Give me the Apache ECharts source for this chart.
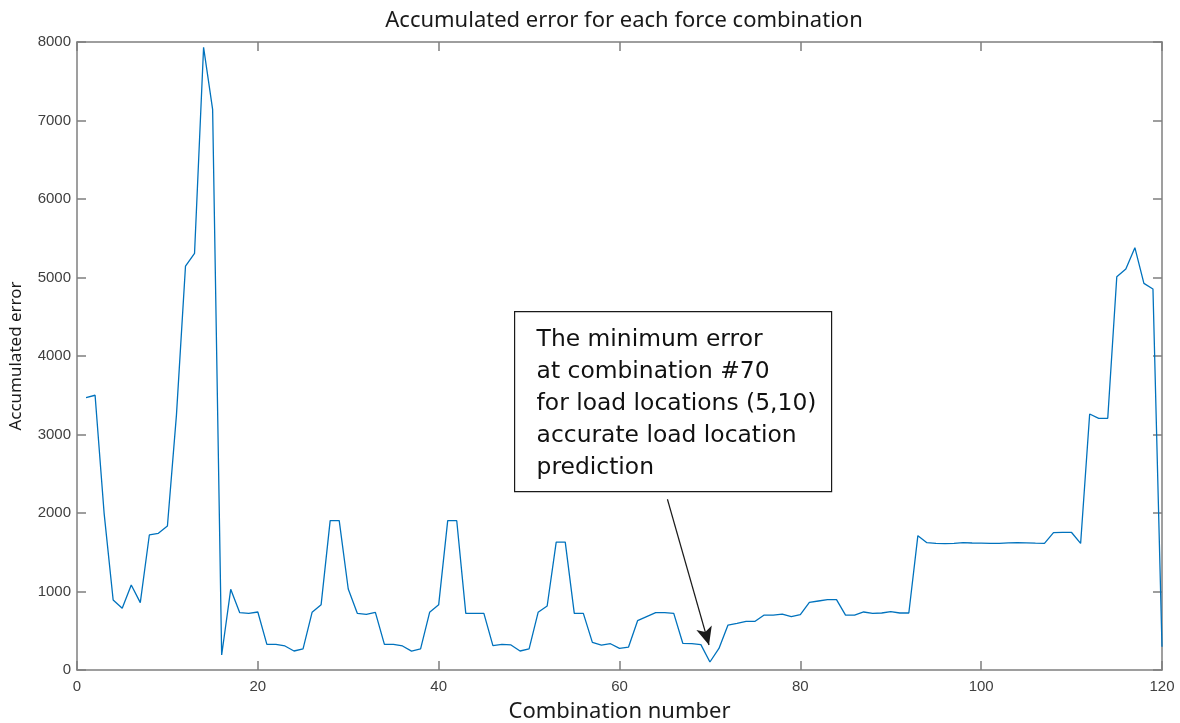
<!DOCTYPE html>
<html>
<head>
<meta charset="utf-8">
<script src="https://cdn.jsdelivr.net/npm/echarts@6/dist/echarts.min.js"></script>
<style>
html,body{margin:0;padding:0;background:#fff;}
#chart{width:1180px;height:723px;}
</style>
</head>
<body>
<div id="chart"></div>
<script>
var combinations = [];
for (var i = 1; i <= 120; i++) combinations.push(i);
var accumulatedError = [
  3470, 3500, 1996, 892, 786, 1083, 858, 1720, 1741, 1834,
  3250, 5146, 5308, 7932, 7142, 191, 1028, 730, 722, 739,
  327, 327, 306, 242, 268, 735, 832, 1902, 1902, 1032,
  722, 709, 735, 327, 327, 306, 240, 268, 735, 830,
  1902, 1902, 722, 722, 722, 310, 327, 319, 242, 268,
  735, 815, 1630, 1630, 722, 722, 352, 318, 335, 275,
  292, 628, 679, 730, 730, 722, 340, 335, 323, 102,
  275, 573, 594, 620, 620, 700, 700, 713, 679, 705,
  862, 879, 896, 896, 700, 700, 739, 722, 726, 743,
  726, 726, 1711, 1622, 1612, 1610, 1614, 1622, 1618, 1616,
  1612, 1614, 1620, 1622, 1620, 1615, 1612, 1750, 1752, 1752,
  1612, 3261, 3206, 3206, 5010, 5108, 5380, 4925, 4854, 297
];
var annotationLines = [
  'The minimum error',
  'at combination #70',
  'for load locations (5,10)',
  'accurate load location',
  'prediction'
];
var arrowFrom = [65.3, 2175];
var arrowTo = [69.9, 318];

var seriesData = combinations.map(function (c, i) { return [c, accumulatedError[i]]; });

var axisGray = '#7f7f7f';
var labelColor = '#404040';
function plain(v) { return String(v); }
var chart = echarts.init(document.getElementById('chart'), null, {renderer: 'canvas'});
chart.setOption({
  animation: false,
  backgroundColor: '#fff',
  title: {
    text: 'Accumulated error for each force combination',
    left: 619, top: 5, textAlign: 'center',
    textStyle: {fontFamily: 'Noto Sans', fontSize: 22, fontWeight: 'normal', color: '#1a1a1a'}
  },
  grid: {left: 77, right: 18, top: 42, bottom: 53, containLabel: false, outerBoundsMode: 'none'},
  xAxis: [{
    type: 'value', min: 0, max: 120, interval: 20,
    name: 'Combination number', nameLocation: 'middle', nameGap: 31,
    nameTextStyle: {fontFamily: 'Noto Sans', fontSize: 22, color: '#1a1a1a'},
    axisLine: {show: true, onZero: false, lineStyle: {color: axisGray, width: 1.5}},
    axisTick: {show: true, inside: true, length: 9, lineStyle: {color: axisGray, width: 1.5}},
    axisLabel: {fontFamily: 'Liberation Sans', fontSize: 15, color: labelColor, margin: 9, formatter: plain},
    splitLine: {show: false}
  }, {
    type: 'value', min: 0, max: 120, interval: 20, position: 'top',
    axisLine: {show: true, onZero: false, lineStyle: {color: axisGray, width: 1.5}},
    axisTick: {show: true, inside: true, length: 9, lineStyle: {color: axisGray, width: 1.5}},
    axisLabel: {show: false}, splitLine: {show: false}
  }],
  yAxis: [{
    type: 'value', min: 0, max: 8000, interval: 1000,
    name: 'Accumulated error', nameLocation: 'middle', nameGap: 52,
    nameTextStyle: {fontFamily: 'Noto Sans', fontSize: 17, color: '#1a1a1a'},
    axisLine: {show: true, onZero: false, lineStyle: {color: axisGray, width: 1.5}},
    axisTick: {show: true, inside: true, length: 9, lineStyle: {color: axisGray, width: 1.5}},
    axisLabel: {fontFamily: 'Liberation Sans', fontSize: 15, color: labelColor, margin: 6, formatter: plain},
    splitLine: {show: false}
  }, {
    type: 'value', min: 0, max: 8000, interval: 1000, position: 'right',
    axisLine: {show: true, onZero: false, lineStyle: {color: axisGray, width: 1.5}},
    axisTick: {show: true, inside: true, length: 9, lineStyle: {color: axisGray, width: 1.5}},
    axisLabel: {show: false}, splitLine: {show: false}
  }],
  series: [{
    type: 'line',
    data: seriesData,
    xAxisIndex: 0, yAxisIndex: 0,
    showSymbol: false,
    lineStyle: {color: '#0072BD', width: 1.3},
    markLine: {
      silent: true,
      symbol: ['none', 'arrow'],
      symbolSize: [12, 18],
      label: {show: false},
      lineStyle: {color: '#1a1a1a', width: 1.2, type: 'solid'},
      data: [[{coord: arrowFrom}, {coord: arrowTo}]]
    }
  }],
  graphic: [{
    type: 'group', left: 514, top: 311,
    children: [{
      type: 'rect', shape: {x: 0, y: 0, width: 317, height: 180},
      style: {fill: '#fff', stroke: '#1a1a1a', lineWidth: 1.2}
    }, {
      type: 'text', x: 22, y: 12,
      style: {
        text: annotationLines.join('\n'),
        font: '23.4px "DejaVu Sans"', lineHeight: 32, fill: '#111'
      }
    }]
  }]
});
</script>
</body>
</html>
